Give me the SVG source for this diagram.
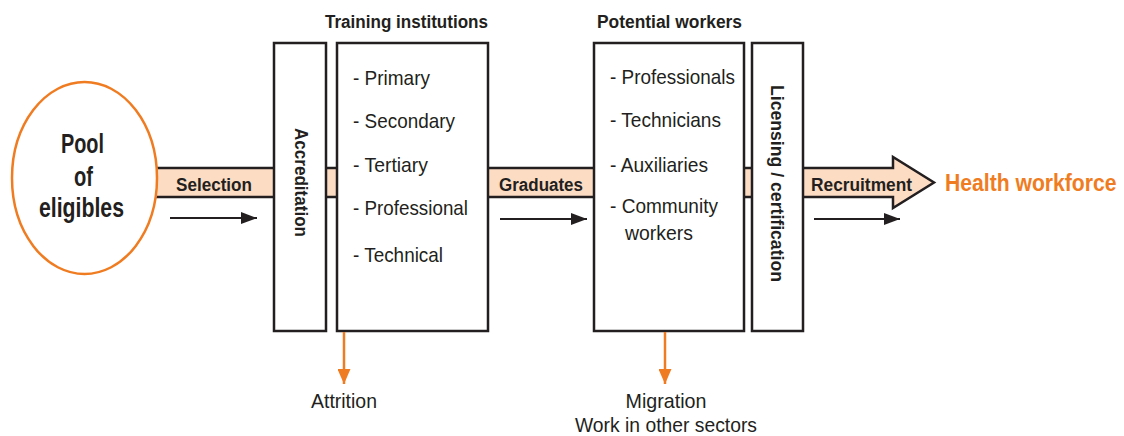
<svg xmlns="http://www.w3.org/2000/svg" width="1124" height="436" viewBox="0 0 1124 436">
<defs>
<style>
.t{font-family:"Liberation Sans",Arial,sans-serif;fill:#231f20}
.b{font-weight:bold}
.box{fill:#fff;stroke:#231f20;stroke-width:2.5}
.li{font-size:21px}
.hd{font-size:18px;font-weight:bold}
.bl{font-size:18px;font-weight:bold}
</style>
<marker id="ab" markerWidth="16" markerHeight="12" refX="16" refY="6" orient="auto" markerUnits="userSpaceOnUse">
<path d="M0,0 L16,6 L0,12 Z" fill="#231f20"/>
</marker>
<marker id="ao" markerWidth="13" markerHeight="15" refX="6.5" refY="15" orient="0" markerUnits="userSpaceOnUse">
<path d="M0,0 L13,0 L6.5,15 Z" fill="#f07c22"/>
</marker>
</defs>
<rect width="1124" height="436" fill="#fff"/>
<g id="band">
<path d="M120,168 H893 V157 L934,182.5 L893,208 V197 H120 Z" fill="#fddcc4" stroke="#231f20" stroke-width="2.5" stroke-linejoin="miter"/>
</g>
<g id="pool">
<ellipse cx="84.5" cy="178" rx="72.5" ry="96" fill="#fff" stroke="#f07c22" stroke-width="2.5"/>
<text class="t b" x="82.5" y="153" font-size="27" text-anchor="middle" textLength="43" lengthAdjust="spacingAndGlyphs">Pool</text>
<text class="t b" x="83.5" y="186" font-size="27" text-anchor="middle" textLength="19" lengthAdjust="spacingAndGlyphs">of</text>
<text class="t b" x="81.5" y="217" font-size="27" text-anchor="middle" textLength="85" lengthAdjust="spacingAndGlyphs">eligibles</text>
</g>
<g id="accreditation">
<rect class="box" x="274" y="43" width="52" height="288"/>
<text class="t b" font-size="19" transform="translate(295,182.5) rotate(90)" text-anchor="middle" textLength="109" lengthAdjust="spacingAndGlyphs">Accreditation</text>
</g>
<g id="training">
<text class="t hd" x="325" y="28" textLength="163" lengthAdjust="spacingAndGlyphs">Training institutions</text>
<rect class="box" x="337" y="43" width="151" height="288"/>
<text class="t li" x="353" y="85" textLength="77" lengthAdjust="spacingAndGlyphs">- Primary</text>
<text class="t li" x="353" y="128" textLength="102" lengthAdjust="spacingAndGlyphs">- Secondary</text>
<text class="t li" x="353" y="172" textLength="75" lengthAdjust="spacingAndGlyphs">- Tertiary</text>
<text class="t li" x="353" y="215" textLength="115" lengthAdjust="spacingAndGlyphs">- Professional</text>
<text class="t li" x="353" y="262" textLength="90" lengthAdjust="spacingAndGlyphs">- Technical</text>
</g>
<g id="workers">
<text class="t hd" x="597" y="28" textLength="145" lengthAdjust="spacingAndGlyphs">Potential workers</text>
<rect class="box" x="594" y="43" width="150" height="288"/>
<text class="t li" x="610" y="84" textLength="125" lengthAdjust="spacingAndGlyphs">- Professionals</text>
<text class="t li" x="610" y="127" textLength="111" lengthAdjust="spacingAndGlyphs">- Technicians</text>
<text class="t li" x="610" y="172" textLength="98" lengthAdjust="spacingAndGlyphs">- Auxiliaries</text>
<text class="t li" x="610" y="213" textLength="108" lengthAdjust="spacingAndGlyphs">- Community</text>
<text class="t li" x="625" y="240" textLength="68" lengthAdjust="spacingAndGlyphs">workers</text>
</g>
<g id="licensing">
<rect class="box" x="752" y="43" width="51" height="288"/>
<text class="t b" font-size="19" transform="translate(771,183.5) rotate(90)" text-anchor="middle" textLength="197" lengthAdjust="spacingAndGlyphs">Licensing / certification</text>
</g>
<g id="labels">
<text class="t bl" x="176" y="191" textLength="76" lengthAdjust="spacingAndGlyphs">Selection</text>
<text class="t bl" x="499" y="191" textLength="84" lengthAdjust="spacingAndGlyphs">Graduates</text>
<text class="t bl" x="811" y="191" textLength="101" lengthAdjust="spacingAndGlyphs">Recruitment</text>
<text class="t b" font-size="23" style="fill:#f07c22" transform="translate(945,191) scale(0.92,1)">Health workforce</text>
</g>
<g id="outflows">
<text class="t li" x="344" y="408" text-anchor="middle" textLength="66" lengthAdjust="spacingAndGlyphs">Attrition</text>
<text class="t li" x="666" y="408" text-anchor="middle" textLength="81" lengthAdjust="spacingAndGlyphs">Migration</text>
<text class="t li" x="666" y="432" text-anchor="middle" textLength="182" lengthAdjust="spacingAndGlyphs">Work in other sectors</text>
</g>
<g id="connectors">
<line x1="170" y1="218" x2="257" y2="218" stroke="#231f20" stroke-width="2.2" marker-end="url(#ab)"/>
<line x1="500" y1="219" x2="587" y2="219" stroke="#231f20" stroke-width="2.2" marker-end="url(#ab)"/>
<line x1="814" y1="219" x2="900" y2="219" stroke="#231f20" stroke-width="2.2" marker-end="url(#ab)"/>
<line x1="344" y1="332" x2="344" y2="384" stroke="#f07c22" stroke-width="2.5" marker-end="url(#ao)"/>
<line x1="665" y1="332" x2="665" y2="384" stroke="#f07c22" stroke-width="2.5" marker-end="url(#ao)"/>
</g>
</svg>
